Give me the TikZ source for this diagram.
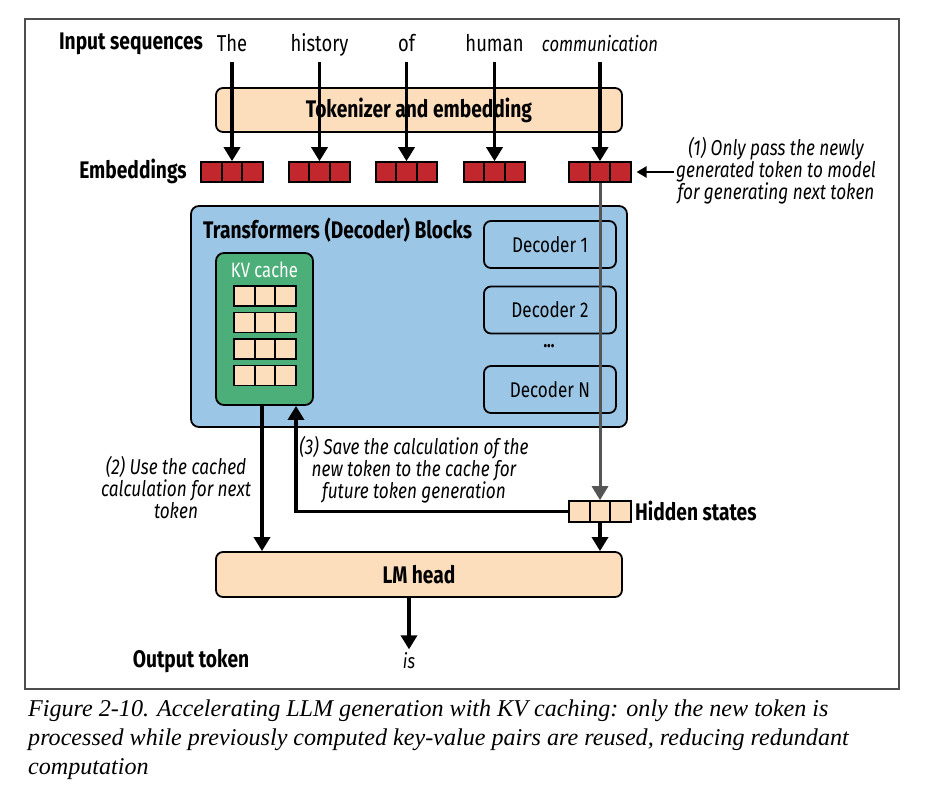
\documentclass[tikz,border=0pt]{standalone}
\usepackage{fontspec}
\setmainfont{Fira Sans}[FakeStretch=0.8]
\newfontfamily\capfont{Liberation Serif}
\usetikzlibrary{arrows.meta, positioning, calc}
\definecolor{peach}{HTML}{FCDEBD}
\definecolor{embred}{HTML}{C1272D}
\definecolor{tfblue}{HTML}{9CC6E5}
\definecolor{kvgreen}{HTML}{4CAE78}
\definecolor{grisline}{HTML}{555555}
\definecolor{marco}{HTML}{4D4D4D}

\begin{document}
\begin{tikzpicture}[x=1pt, y=-1pt,
    celda/.style={draw=black, line width=1.6pt, minimum width=20.5pt, minimum height=20pt, inner sep=0pt},
    caja/.style={draw=black, line width=1.8pt, rounded corners=7pt, fill=peach, minimum width=406pt, font=\fontsize{24}{26}\selectfont\bfseries},
    dec/.style={draw=black, line width=1.8pt, rounded corners=7pt, minimum width=132pt, minimum height=47pt, font=\fontsize{21.3}{23}\selectfont},
    etiqueta/.style={font=\fontsize{24}{26}\selectfont\bfseries, inner sep=2pt},
    palabra/.style={font=\fontsize{23}{25}\selectfont, text height=16pt, text depth=5pt, inner ysep=5pt},
    nota/.style={font=\fontsize{21.5}{22}\selectfont\itshape, align=center, inner sep=2pt},
    flecha/.style={line width=3.4pt, -{Triangle[length=14pt, width=16pt]}}]
  \useasboundingbox (0,0) rectangle (925,795);
  % Marco
  \draw[marco, line width=1.5pt] (25,19) rectangle (899,689);
  % Secuencia de entrada
  \node[etiqueta] (inlab) at (131,44) {Input sequences};
  \foreach \w/\x [count=\i] in {The/232, history/319.5, of/406.5, human/494.5}
    \node[palabra] (w\i) at (\x,46) {\w};
  \node[palabra, font=\fontsize{20.8}{23}\selectfont\itshape] (w5) at (600,46) {communication};
  % Tokenizador
  \node[caja, minimum height=44pt] (tok) at (419,110) {Tokenizer and embedding};
  % Embeddings
  \node[etiqueta] (emblab) at (133,171) {Embeddings};
  \foreach \x [count=\i] in {232,319.5,406.5,494.5,600}
    \foreach \j in {1,2,3}
      \node[celda, fill=embred] (e\i-\j) at ({\x+(\j-2)*20.5},172) {};
  \foreach \i in {1,...,5}
    \draw[flecha] (w\i.south) -- (e\i-2.north);
  % Nota (1)
  \node[nota] (n1) at (776,171) {(1) Only pass the newly\\generated token to model\\for generating next token};
  \draw[line width=2.4pt, -{Triangle[length=10pt, width=11pt]}, shorten >=5pt] (n1.west |- e5-3.east) -- (e5-3.east);
  % Bloques del transformer
  \node[draw=black, line width=1.8pt, rounded corners=8pt, fill=tfblue, minimum width=436pt, minimum height=221pt] (tf) at (409,316.5) {};
  \node[etiqueta, anchor=west] (tflab) at (201,230) {Transformers (Decoder) Blocks};
  \foreach \y/\n [count=\i] in {244.5/1, 310/2, 389.5/N}
    \node[dec] (d\i) at (550,\y) {Decoder \n};
  \node[font=\fontsize{19}{22}\selectfont\bfseries] (dots) at (549,346) {...};
  % KV cache
  \node[draw=black, line width=1.8pt, rounded corners=8pt, fill=kvgreen, minimum width=97pt, minimum height=152pt] (kv) at (264.5,329) {};
  \node[text=white, font=\fontsize{20.8}{23}\selectfont] (kvlab) at (264.5,270) {KV cache};
  \foreach \y [count=\r] in {296,322.5,349,375.5}
    \foreach \j in {1,2,3}
      \node[celda, fill=peach] (k\r-\j) at ({265+(\j-2)*20.7},\y) {};
  % Estados ocultos
  \foreach \j in {1,2,3}
    \node[celda, fill=peach, minimum height=21pt] (h\j) at ({600+(\j-2)*20.5},511.5) {};
  \node[etiqueta, anchor=west] (hlab) at (633,511) {Hidden states};
  \draw[flecha, grisline, line width=3pt] (e5-2.south) -- (h2.north);
  % LM head
  \node[caja, minimum height=45pt] (lm) at (419,574.5) {LM head};
  \coordinate (kvout) at ($(kv.south)+(-2.5,0)$);
  \coordinate (kvin) at ($(kv.south)+(31.5,0)$);
  \draw[flecha] (kvout) -- (kvout |- lm.north);
  \draw[flecha] (h1.west) -| (kvin);
  \draw[flecha] (h2.south) -- (h2.south |- lm.north);
  % Notas (2) y (3)
  \node[nota] (n2) at (176,488) {(2) Use the cached\\calculation for next\\token};
  \node[nota] (n3) at (414,470) {(3) Save the calculation of the\\new token to the cache for\\future token generation};
  % Salida
  \node[etiqueta] (outlab) at (191,661) {Output token};
  \node[font=\fontsize{20.5}{22}\selectfont\itshape] (tokis) at (409,661) {is};
  \coordinate (lmout) at ($(lm.south)+(-10,0)$);
  \draw[flecha] (lmout) -- (lmout |- tokis.north);
  % Pie de figura
  \node[anchor=north west, align=left, inner sep=0pt, font=\capfont\itshape\fontsize{24.1}{29}\selectfont] (cap) at (28,700)
    {Figure 2-10. Accelerating LLM generation with KV caching: only the new token is\\processed while previously computed key-value pairs are reused, reducing redundant\\computation};
\end{tikzpicture}
\end{document}
